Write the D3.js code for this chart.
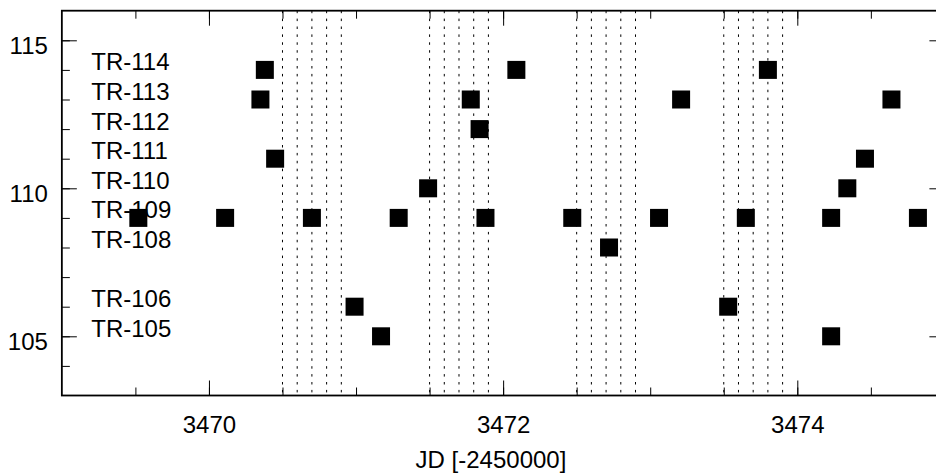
<!DOCTYPE html>
<html>
<head>
<meta charset="utf-8">
<script src="https://cdn.jsdelivr.net/npm/d3@7"></script>
<style>
    body { margin: 0; background: #fff; }
    svg { display: block; font-family: "Liberation Sans", Arial, Helvetica, sans-serif; }
</style>
</head>
<body>
<div id="chart"></div>
<script>
/**
 * Observation times (JD - 2450000) per target, TR-105 ... TR-114
 */
var targetNames = ['TR-114', 'TR-113', 'TR-112', 'TR-111', 'TR-110', 'TR-109', 'TR-108', 'TR-106', 'TR-105'];
var targetRows  = [114, 113, 112, 111, 110, 109, 108, 106, 105];

var tr114 = [3470.38, 3472.09, 3473.80];
var tr113 = [3470.35, 3471.78, 3473.21, 3474.64];
var tr112 = [3471.84];
var tr111 = [3470.45, 3474.46];
var tr110 = [3471.49, 3474.34];
var tr109 = [3469.52, 3470.11, 3470.70, 3471.29, 3471.88, 3472.47, 3473.06, 3473.65, 3474.23, 3474.82];
var tr108 = [3472.72];
var tr106 = [3470.99, 3473.53];
var tr105 = [3471.17, 3474.23];

var seriesTimes = [tr114, tr113, tr112, tr111, tr110, tr109, tr108, tr106, tr105];

// dotted vertical marks (night fractions)
var nightLines = [
    3470.5, 3470.6, 3470.7, 3470.8, 3470.9,
    3471.5, 3471.6, 3471.7, 3471.8, 3471.9,
    3472.5, 3472.6, 3472.7, 3472.8, 3472.9,
    3473.5, 3473.6, 3473.7, 3473.8, 3473.9
];

var xDomain = [3469, 3475];
var yDomain = [103, 116];
var xMajorTicks = [3470, 3472, 3474];
var xMinorTicks = [3469.5, 3470, 3470.5, 3471, 3471.5, 3472, 3472.5, 3473, 3473.5, 3474, 3474.5];
var yMajorTicks = [105, 110, 115];
var yMinorTicks = [104, 105, 106, 107, 108, 109, 110, 111, 112, 113, 114, 115];

function renderChart() {
    var width = 936;
    var height = 474;
    var left = 61.85, right = 944.4, top = 10.7, bottom = 395.5;
    var fontSize = 24;

    var svg = d3.select('#chart').append('svg')
        .attr('width', width)
        .attr('height', height);

    var xScale = d3.scaleLinear().domain(xDomain).range([left, right]);
    var yScale = d3.scaleLinear().domain(yDomain).range([bottom, top]);

    // Dotted vertical lines
    svg.selectAll('.night')
        .data(nightLines)
        .enter()
        .append('line')
        .attr('class', 'night')
        .attr('x1', function(d) { return xScale(d); })
        .attr('x2', function(d) { return xScale(d); })
        .attr('y1', top)
        .attr('y2', bottom)
        .attr('stroke', '#000')
        .attr('stroke-width', 1)
        .attr('stroke-dasharray', '2.5,5.4');

    // Axes: minor + major ticks on all four sides, pointing inward
    function strip(sel) {
        sel.select('.domain').remove();
        sel.selectAll('line').attr('stroke', '#000').attr('stroke-width', 1);
    }

    svg.append('g')
        .attr('transform', 'translate(0,' + bottom + ')')
        .call(d3.axisBottom(xScale).tickValues(xMinorTicks).tickSize(-8).tickFormat(''))
        .call(strip);
    svg.append('g')
        .attr('transform', 'translate(0,' + top + ')')
        .call(d3.axisTop(xScale).tickValues(xMinorTicks).tickSize(-8).tickFormat(''))
        .call(strip);

    var xAxisBottom = svg.append('g')
        .attr('transform', 'translate(0,' + bottom + ')')
        .call(d3.axisBottom(xScale).tickValues(xMajorTicks).tickSize(-15).tickPadding(20)
            .tickFormat(function(d) { return d; }))
        .call(strip);
    xAxisBottom.selectAll('text')
        .attr('font-size', fontSize + 'px')
        .attr('font-family', '"Liberation Sans", Arial, sans-serif')
        .attr('fill', '#000');

    svg.append('g')
        .attr('transform', 'translate(0,' + top + ')')
        .call(d3.axisTop(xScale).tickValues(xMajorTicks).tickSize(-15).tickFormat(''))
        .call(strip);

    svg.append('g')
        .attr('transform', 'translate(' + left + ',0)')
        .call(d3.axisLeft(yScale).tickValues(yMinorTicks).tickSize(-8).tickFormat(''))
        .call(strip);
    svg.append('g')
        .attr('transform', 'translate(' + right + ',0)')
        .call(d3.axisRight(yScale).tickValues(yMinorTicks).tickSize(-8).tickFormat(''))
        .call(strip);

    var yAxisLeft = svg.append('g')
        .attr('transform', 'translate(' + left + ',0)')
        .call(d3.axisLeft(yScale).tickValues(yMajorTicks).tickSize(-15).tickPadding(14)
            .tickFormat(function(d) { return d; }))
        .call(strip);
    yAxisLeft.selectAll('text')
        .attr('font-size', fontSize + 'px')
        .attr('font-family', '"Liberation Sans", Arial, sans-serif')
        .attr('fill', '#000')
        .attr('dy', '13px');

    svg.append('g')
        .attr('transform', 'translate(' + right + ',0)')
        .call(d3.axisRight(yScale).tickValues(yMajorTicks).tickSize(-15).tickFormat(''))
        .call(strip);

    // Frame
    svg.append('rect')
        .attr('x', left)
        .attr('y', top)
        .attr('width', right - left)
        .attr('height', bottom - top)
        .attr('fill', 'none')
        .attr('stroke', '#000')
        .attr('stroke-width', 1.8);

    // Target labels
    svg.selectAll('.target-label')
        .data(targetNames)
        .enter()
        .append('text')
        .attr('class', 'target-label')
        .attr('x', xScale(3469.2))
        .attr('y', function(d, i) { return yScale(targetRows[i]) + 0.5; })
        .attr('font-size', fontSize + 'px')
        .attr('fill', '#000')
        .text(function(d) { return d; });

    // Observation squares
    var size = 18;
    var points = [];
    seriesTimes.forEach(function(times, i) {
        times.forEach(function(t) {
            points.push({ t: t, row: targetRows[i] });
        });
    });

    svg.selectAll('.obs')
        .data(points)
        .enter()
        .append('rect')
        .attr('class', 'obs')
        .attr('x', function(d) { return xScale(d.t) - size / 2; })
        .attr('y', function(d) { return yScale(d.row) - size / 2; })
        .attr('width', size)
        .attr('height', size)
        .attr('fill', '#000');

    // X axis label
    svg.append('text')
        .attr('x', 491)
        .attr('y', 468)
        .attr('text-anchor', 'middle')
        .attr('font-size', fontSize + 'px')
        .attr('fill', '#000')
        .text('JD [-2450000]');
}

renderChart();
</script>
</body>
</html>
